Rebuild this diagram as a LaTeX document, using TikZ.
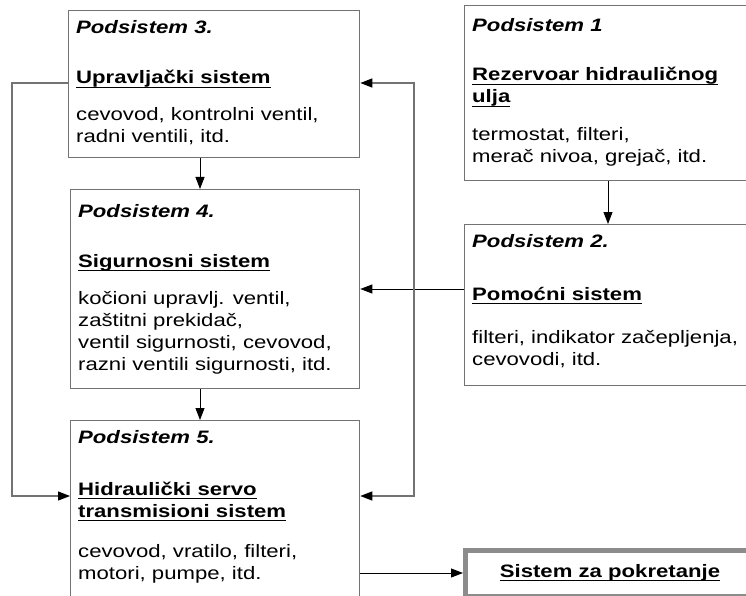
\documentclass[tikz,border=0pt]{standalone}
\usepackage{fontspec}
\setmainfont{Liberation Sans}[FakeStretch=1.23]
\usetikzlibrary{arrows.meta}

\newcommand{\boxtext}[1]{\parbox[t]{300pt}{\raggedright\fontsize{18}{22}\selectfont #1}}
\newcommand{\undl}[1]{\setbox0=\hbox{#1}\leavevmode\rlap{\rule[-3.8pt]{\wd0}{1.1pt}}\box0}

\begin{document}
\begin{tikzpicture}[x=1pt, y=-1pt,
  box/.style = {draw=black!55, line width=1.3pt, anchor=north west, inner sep=0pt},
  txt/.style = {anchor=base west, inner sep=0pt},
  arr/.style = {line width=0.9pt, -{Triangle[length=12pt, width=9pt]}},
  bus/.style = {draw=black!55, line width=1.2pt}]
\useasboundingbox (0,0) rectangle (746,596);
\clip (0,0) rectangle (746,596);

% left column
\node[box, minimum width=291pt, minimum height=147pt] (p3) at (68,10) {};
\node[box, minimum width=289pt, minimum height=199pt] (p4) at (70,189) {};
\node[box, minimum width=289pt, minimum height=177pt] (p5) at (70,420) {};
% right column
\node[box, minimum width=286pt, minimum height=175pt] (p1) at (464,5) {};
\node[box, minimum width=286pt, minimum height=161pt] (p2) at (464,224) {};
\node[draw=black!45, line width=5pt, minimum width=289pt, minimum height=46pt,
      font=\fontsize{18}{22}\selectfont] (pok) at (610,573)
      {\undl{\textbf{Sistem za pokretanje}}};

\node[txt] (p3text) at (76,34) {\boxtext{\textbf{\textit{Podsistem 3.}}\\[28pt]
  \undl{\textbf{Upravljački sistem}}\\[15pt]
  cevovod, kontrolni ventil,\\ radni ventili, itd.}};
\node[txt] (p4text) at (78,217) {\boxtext{\textbf{\textit{Podsistem 4.}}\\[28pt]
  \undl{\textbf{Sigurnosni sistem}}\\[15pt]
  kočioni upravlj. ventil,\\ zaštitni prekidač,\\
  ventil sigurnosti, cevovod,\\ razni ventili sigurnosti, itd.}};
\node[txt] (p5text) at (78,443) {\boxtext{\textbf{\textit{Podsistem 5.}}\\[30pt]
  \undl{\textbf{Hidraulički servo}}\\ \undl{\textbf{transmisioni sistem}}\\[18pt]
  cevovod, vratilo, filteri,\\ motori, pumpe, itd.}};
\node[txt] (p1text) at (472,32) {\boxtext{\textbf{\textit{Podsistem 1}}\\[27pt]
  \undl{\textbf{Rezervoar hidrauličnog}}\\ \undl{\textbf{ulja}}\\[16pt]
  termostat, filteri,\\ merač nivoa, grejač, itd.}};
\node[txt] (p2text) at (472,247) {\boxtext{\textbf{\textit{Podsistem 2.}}\\[31pt]
  \undl{\textbf{Pomoćni sistem}}\\[21pt]
  filteri, indikator začepljenja,\\ cevovodi, itd.}};

% connectors
\coordinate (cx) at (200,0);
\coordinate (rx) at (608,0);
\coordinate (pomy) at (0,289);
\coordinate (outy) at (0,573);
\coordinate (rbt) at (414,83);
\coordinate (rbb) at (414,496);
\coordinate (lbt) at (12,83);
\coordinate (lbb) at (12,496);
\draw[arr] (p3.south -| cx) -- (p4.north -| cx);
\draw[arr] (p4.south -| cx) -- (p5.north -| cx);
\draw[arr] (p1.south -| rx) -- (p2.north -| rx);
\draw[arr] (p2.west |- pomy) -- (p4.east |- pomy);
\draw[arr] (p5.east |- outy) -- (pok.west |- outy);
\draw[bus, {Triangle[length=12pt, width=9pt, color=black]}-{Triangle[length=12pt, width=9pt, color=black]}]
  (p3.east |- rbt) -- (rbt) -- (rbb) -- (p5.east |- rbb);
\draw[bus, -{Triangle[length=12pt, width=9pt, color=black]}]
  (p3.west |- lbt) -- (lbt) -- (lbb) -- (p5.west |- lbb);
\end{tikzpicture}
\end{document}
